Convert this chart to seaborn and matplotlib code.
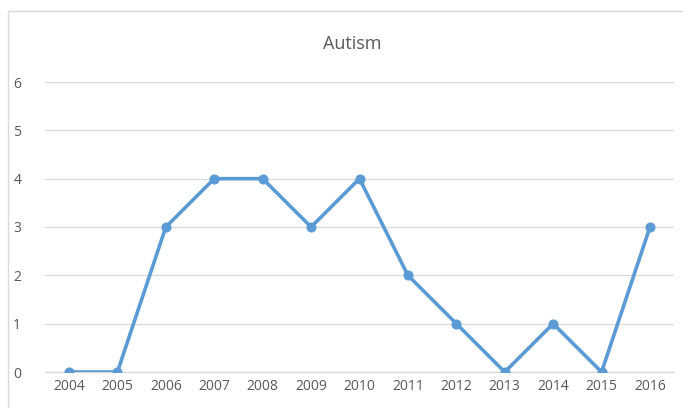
import matplotlib
matplotlib.use("Agg")
import matplotlib.pyplot as plt
from matplotlib.patches import Rectangle
import seaborn as sns
import pandas as pd

years = [2004, 2005, 2006, 2007, 2008, 2009, 2010, 2011, 2012, 2013, 2014, 2015, 2016]
counts = [0, 0, 3, 4, 4, 3, 4, 2, 1, 0, 1, 0, 3]
y_ticks = [0, 1, 2, 3, 4, 5, 6]
title = "Autism"

df = pd.DataFrame({"year": years, "count": counts})

sns.set_theme(style="white")
plt.rcParams["font.family"] = ["Open Sans", "DejaVu Sans"]

W, H = 683, 408
fig = plt.figure(figsize=(W / 100, H / 100), dpi=100)
fig.patch.set_facecolor("white")

# Chart frame
fig.patches.append(Rectangle((8 / W, -0.1), 1.2, (1 - 11 / H) + 0.1,
                             transform=fig.transFigure, fill=False,
                             edgecolor="#D9D9D9", linewidth=1.0, clip_on=False))

ax = fig.add_axes([44.8 / W, 1 - 372 / H, (674.2 - 44.8) / W, (372 - 82) / H])
ax.set_facecolor("none")

sns.lineplot(data=df, x="year", y="count", ax=ax, color="#5B9BD5",
             linewidth=2.6, marker="o", markersize=6.5,
             markeredgecolor="#5B9BD5", markerfacecolor="#5B9BD5", zorder=3)

ax.set_xlim(years[0] - 0.5, years[-1] + 0.5)
ax.set_ylim(y_ticks[0], y_ticks[-1])
ax.set_xticks(years)
ax.set_xticklabels([str(y) for y in years])
ax.set_yticks(y_ticks)
ax.set_yticklabels([str(v) for v in y_ticks])
ax.set_xlabel("")
ax.set_ylabel("")

ax.grid(axis="y", color="#D9D9D9", linewidth=0.9)
ax.set_axisbelow(True)
for side in ["left", "right", "top"]:
    ax.spines[side].set_visible(False)
ax.spines["bottom"].set_color("#D9D9D9")
ax.spines["bottom"].set_linewidth(0.9)

ax.tick_params(axis="both", length=0, labelsize=10, colors="#595959")
ax.tick_params(axis="x", pad=5)
ax.tick_params(axis="y", pad=17)

fig.text(352 / W, 1 - 44 / H, title, ha="center", va="center",
         fontsize=13, color="#595959")

fig.savefig("out.png", dpi=100, facecolor="white")
